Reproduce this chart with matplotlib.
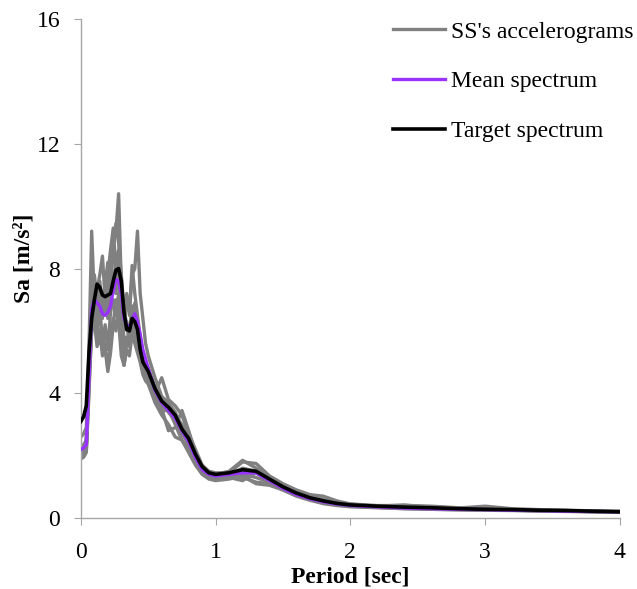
import matplotlib
matplotlib.use("Agg")
import matplotlib.pyplot as plt

plt.rcParams['font.family'] = ['Liberation Serif', 'DejaVu Serif']

# Period grid [sec]
period = [0.00, 0.02, 0.04, 0.06, 0.08, 0.10, 0.12, 0.14, 0.16, 0.18,
          0.20, 0.22, 0.24, 0.26, 0.28, 0.30, 0.32, 0.34, 0.36, 0.38,
          0.40, 0.42, 0.44, 0.46, 0.48, 0.50, 0.55, 0.60, 0.65, 0.70,
          0.75, 0.80, 0.85, 0.90, 0.95, 1.00, 1.10, 1.20, 1.30, 1.40,
          1.50, 1.60, 1.70, 1.80, 1.90, 2.00, 2.20, 2.40, 2.60, 2.80,
          3.00, 3.20, 3.40, 3.60, 3.80, 4.00]

# Spectral accelerations of the selected records [m/s^2]
rec_1 = [2.0, 2.05, 2.2, 4.5, 6.0, 6.8, 6.2, 7.0, 6.4, 7.5,
         8.2, 7.0, 8.8, 9.2, 10.4, 7.5, 6.0, 6.3, 5.5, 6.5,
         6.0, 5.6, 5.2, 4.9, 4.6, 4.4, 3.9, 3.6, 3.4, 3.1,
         2.8, 2.3, 1.9, 1.5, 1.35, 1.3, 1.35, 1.5, 1.45, 1.2,
         0.95, 0.75, 0.6, 0.5, 0.43, 0.38, 0.35, 0.32, 0.3, 0.28,
         0.3, 0.27, 0.24, 0.22, 0.21, 0.2]
rec_2 = [2.1, 2.15, 2.3, 5.5, 9.2, 7.0, 6.0, 6.8, 5.6, 6.2,
         5.4, 6.6, 7.0, 6.5, 7.2, 6.1, 5.4, 5.8, 5.6, 6.4,
         6.2, 5.8, 5.3, 5.0, 4.7, 4.3, 3.8, 3.4, 3.5, 3.0,
         2.5, 2.2, 1.8, 1.45, 1.3, 1.25, 1.3, 1.4, 1.3, 1.15,
         0.9, 0.72, 0.6, 0.5, 0.42, 0.38, 0.34, 0.3, 0.28, 0.27,
         0.26, 0.25, 0.23, 0.22, 0.2, 0.19]
rec_3 = [2.6, 2.7, 2.9, 5.0, 6.5, 7.6, 6.8, 7.2, 6.5, 7.0,
         6.8, 7.4, 7.8, 7.2, 8.2, 6.8, 6.2, 7.0, 6.6, 7.8,
         8.0, 9.2, 7.2, 6.4, 5.6, 5.2, 4.5, 3.9, 3.7, 3.4,
         2.9, 2.6, 2.0, 1.6, 1.45, 1.4, 1.5, 1.85, 1.6, 1.3,
         1.05, 0.85, 0.7, 0.6, 0.5, 0.45, 0.4, 0.4, 0.38, 0.33,
         0.3, 0.28, 0.26, 0.24, 0.22, 0.21]
rec_4 = [1.9, 1.95, 2.1, 4.0, 6.2, 6.6, 7.3, 7.8, 8.4, 7.0,
         7.8, 8.6, 9.3, 8.0, 8.6, 7.0, 6.4, 7.2, 6.5, 8.1,
         7.2, 6.5, 5.8, 5.3, 5.0, 4.8, 4.2, 3.8, 3.5, 3.3,
         3.0, 2.6, 2.1, 1.6, 1.4, 1.35, 1.4, 1.3, 1.15, 1.1,
         0.95, 0.8, 0.68, 0.58, 0.48, 0.42, 0.37, 0.34, 0.32, 0.3,
         0.28, 0.26, 0.25, 0.23, 0.21, 0.2]
rec_5 = [2.0, 2.05, 2.15, 4.2, 6.0, 6.3, 5.5, 6.0, 5.2, 5.5,
         4.8, 5.6, 6.4, 6.0, 6.8, 5.6, 4.9, 5.4, 5.2, 5.9,
         5.6, 5.3, 5.0, 4.6, 4.4, 4.3, 3.7, 3.3, 3.0, 2.6,
         2.5, 2.1, 1.7, 1.4, 1.25, 1.2, 1.25, 1.35, 1.1, 1.05,
         0.9, 0.7, 0.57, 0.46, 0.4, 0.36, 0.33, 0.3, 0.28, 0.26,
         0.25, 0.24, 0.22, 0.21, 0.2, 0.18]
rec_6 = [2.2, 2.25, 2.4, 4.8, 7.0, 7.4, 6.5, 6.3, 7.0, 6.6,
         7.4, 8.0, 8.6, 9.45, 8.8, 7.8, 6.7, 6.2, 6.0, 6.8,
         6.6, 6.2, 5.6, 5.3, 4.9, 4.6, 4.0, 4.5, 3.8, 3.6,
         3.3, 2.7, 2.2, 1.7, 1.5, 1.45, 1.45, 1.8, 1.75, 1.35,
         1.1, 0.9, 0.75, 0.7, 0.55, 0.45, 0.38, 0.42, 0.35, 0.32,
         0.38, 0.3, 0.27, 0.25, 0.23, 0.22]
rec_7 = [2.3, 2.35, 2.5, 4.6, 6.4, 7.0, 6.4, 5.6, 6.0, 5.4,
         4.7, 5.3, 6.2, 7.0, 6.3, 5.2, 4.9, 5.6, 5.9, 6.2,
         5.8, 5.5, 5.1, 4.7, 4.5, 4.4, 4.0, 3.5, 2.8, 2.9,
         3.45, 2.8, 2.1, 1.55, 1.35, 1.3, 1.3, 1.2, 1.45, 1.25,
         1.0, 0.8, 0.62, 0.52, 0.45, 0.4, 0.36, 0.33, 0.3, 0.28,
         0.27, 0.25, 0.24, 0.22, 0.21, 0.2]
rec_8 = [2.1, 2.15, 2.3, 5.2, 7.4, 7.8, 7.0, 7.6, 6.8, 7.2,
         6.4, 7.0, 7.4, 8.1, 7.5, 6.4, 5.8, 5.6, 5.9, 6.0,
         6.9, 6.0, 5.5, 5.1, 4.9, 4.6, 4.1, 3.7, 3.4, 3.2,
         2.7, 2.4, 1.9, 1.5, 1.3, 1.28, 1.35, 1.6, 1.5, 1.2,
         1.0, 0.78, 0.63, 0.53, 0.45, 0.4, 0.36, 0.33, 0.31, 0.28,
         0.27, 0.26, 0.24, 0.22, 0.21, 0.2]
records = [rec_1, rec_2, rec_3, rec_4, rec_5, rec_6, rec_7, rec_8]

mean_spectrum = [2.2, 2.25, 2.35, 4.5, 6.7, 7.0, 6.9, 6.8, 6.55, 6.5,
                 6.6, 6.8, 7.3, 7.65, 7.6, 7.2, 6.4, 6.2, 6.1, 6.35,
                 6.55, 6.3, 5.9, 5.4, 5.1, 4.8, 4.1, 3.7, 3.45, 3.2,
                 2.8, 2.45, 1.95, 1.55, 1.4, 1.35, 1.4, 1.45, 1.45, 1.2,
                 0.95, 0.75, 0.62, 0.52, 0.45, 0.4, 0.36, 0.32, 0.3, 0.28,
                 0.27, 0.25, 0.24, 0.22, 0.21, 0.2]

target_spectrum = [3.1, 3.25, 3.6, 5.3, 6.4, 7.0, 7.5, 7.4, 7.15, 7.1,
                   7.15, 7.2, 7.6, 7.95, 8.0, 7.6, 6.6, 6.05, 6.0, 6.4,
                   6.3, 6.05, 5.4, 5.0, 4.85, 4.7, 4.15, 3.75, 3.55, 3.3,
                   2.85, 2.55, 2.05, 1.65, 1.45, 1.4, 1.45, 1.55, 1.5, 1.25,
                   1.0, 0.8, 0.65, 0.55, 0.47, 0.42, 0.38, 0.35, 0.33, 0.3,
                   0.28, 0.27, 0.25, 0.24, 0.22, 0.2]

x_ticks = [0, 1, 2, 3, 4]
y_ticks = [0, 4, 8, 12, 16]

fig = plt.figure(figsize=(6.37, 5.89), dpi=100)
ax = fig.add_axes([0.127, 0.1205, 0.846, 0.847])

for i, rec in enumerate(records):
    ax.plot(period, rec, color='#808080', lw=2.4, solid_joinstyle='round',
            label="SS's accelerograms" if i == 0 else None, zorder=2)
ax.plot(period, mean_spectrum, color='#9933FF', lw=2.4,
        label='Mean spectrum', zorder=3)
ax.plot(period, target_spectrum, color='black', lw=2.6,
        label='Target spectrum', zorder=4)

ax.set_xlim(0, 4)
ax.set_ylim(0, 16)
ax.set_xticks(x_ticks)
ax.set_yticks(y_ticks)

for side in ('top', 'right'):
    ax.spines[side].set_visible(False)
for side in ('left', 'bottom'):
    ax.spines[side].set_color('#a6a6a6')
    ax.spines[side].set_linewidth(1.0)

ax.tick_params(axis='both', which='major', direction='out', length=5,
               color='#a6a6a6', labelsize=17)
ax.tick_params(axis='x', pad=12)
ax.tick_params(axis='y', pad=10)

ax.set_xlabel('Period [sec]', fontsize=17, fontweight='bold', labelpad=3)
ax.set_ylabel('Sa [m/s²]', fontsize=17, fontweight='bold')
ax.yaxis.set_label_coords(-0.087, 0.521)

leg = ax.legend(loc='upper left', bbox_to_anchor=(393 / 637, 1 - 21 / 589),
                bbox_transform=fig.transFigure, frameon=False, fontsize=17,
                handlelength=2.2, handletextpad=0.25, labelspacing=1.2,
                borderpad=0, borderaxespad=0)

fig.savefig('out.png', dpi=100)
